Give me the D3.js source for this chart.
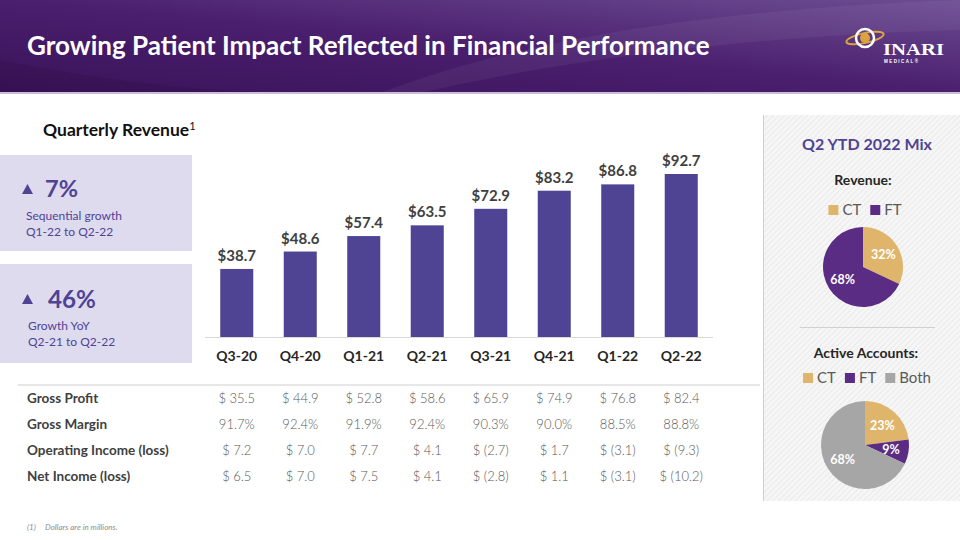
<!DOCTYPE html>
<html><head><meta charset="utf-8">
<script src="https://cdn.jsdelivr.net/npm/d3@7"></script>
<style>
html,body{margin:0;padding:0;background:#fff;}
svg{display:block;font-family:Lato,"Open Sans",sans-serif;}
</style></head>
<body>
<svg id="chart" width="960" height="540"></svg>
<script>
const quarters = ["Q3-20","Q4-20","Q1-21","Q2-21","Q3-21","Q4-21","Q1-22","Q2-22"];
const revenue = [38.7,48.6,57.4,63.5,72.9,83.2,86.8,92.7];
const rowLabels = ["Gross Profit","Gross Margin","Operating Income (loss)","Net Income (loss)"];
const grossProfit = ["$ 35.5","$ 44.9","$ 52.8","$ 58.6","$ 65.9","$ 74.9","$ 76.8","$ 82.4"];
const grossMargin = ["91.7%","92.4%","91.9%","92.4%","90.3%","90.0%","88.5%","88.8%"];
const opIncome = ["$ 7.2","$ 7.0","$ 7.7","$ 4.1","$ (2.7)","$ 1.7","$ (3.1)","$ (9.3)"];
const netIncome = ["$ 6.5","$ 7.0","$ 7.5","$ 4.1","$ (2.8)","$ 1.1","$ (3.1)","$ (10.2)"];
const revMixLabels = ["CT","FT"];
const revMix = [32,68];
const acctMixLabels = ["CT","FT","Both"];
const acctMix = [23,9,68];
const mixColors = ["#dfb56b","#5b2c83","#a6a6a6"];

const svg = d3.select("#chart");
const defs = svg.append("defs");

// header gradient
const hg = defs.append("linearGradient").attr("id","hdr").attr("x1","0").attr("y1","1").attr("x2","1").attr("y2","0");
hg.append("stop").attr("offset","0").attr("stop-color","#3a1259");
hg.append("stop").attr("offset","0.5").attr("stop-color","#4a1f6e");
hg.append("stop").attr("offset","1").attr("stop-color","#6d4d93");
svg.append("rect").attr("x",0).attr("y",0).attr("width",960).attr("height",93).attr("fill","url(#hdr)");
svg.append("path").attr("d","M380,93 C520,40 700,10 960,0 L960,30 C760,35 560,60 420,93 Z").attr("fill","#ffffff").attr("opacity",0.05);
svg.append("path").attr("d","M0,60 C150,90 250,93 330,93 L0,93 Z").attr("fill","#000").attr("opacity",0.08);
svg.append("rect").attr("x",0).attr("y",92).attr("width",960).attr("height",2).attr("fill","#c9bdd9");

function fit(sel, w){
  const n = sel.node(); const l = n.getComputedTextLength();
  const fs = parseFloat(sel.attr("font-size"));
  sel.attr("font-size", fs*w/l);
  return sel;
}

const title = svg.append("text").attr("x",27).attr("y",55).attr("fill","#fff")
  .attr("font-weight","700").attr("font-size",24)
  .text("Growing Patient Impact Reflected in Financial Performance");
fit(title, 683);

// logo
const logo = svg.append("g").attr("transform","translate(865,38)");
logo.append("ellipse").attr("cx",0).attr("cy",0).attr("rx",19).attr("ry",5).attr("fill","none").attr("stroke","#d9a441").attr("stroke-width",2).attr("transform","rotate(-12)");
logo.append("circle").attr("cx",0).attr("cy",0).attr("r",9).attr("fill","none").attr("stroke","#fff").attr("stroke-width",2.5);
logo.append("circle").attr("cx",0).attr("cy",0).attr("r",5).attr("fill","#d9a441");
svg.append("text").attr("x",883).attr("y",55).attr("fill","#fff").attr("font-family","'Liberation Serif',serif").attr("font-weight","700").attr("font-size",16).attr("textLength",61).attr("lengthAdjust","spacingAndGlyphs").text("INARI");
svg.append("text").attr("x",884).attr("y",62.5).attr("fill","#fff").attr("font-family","'Liberation Sans',sans-serif").attr("font-weight","700").attr("font-size",4.5).attr("textLength",34).attr("lengthAdjust","spacing").text("MEDICAL®");

// right panel with hatching
const pat = defs.append("pattern").attr("id","hatch").attr("patternUnits","userSpaceOnUse").attr("width",4).attr("height",4).attr("patternTransform","rotate(45)");
pat.append("rect").attr("width",4).attr("height",4).attr("fill","#f6f6f6");
pat.append("line").attr("x1",0).attr("y1",0).attr("x2",0).attr("y2",4).attr("stroke","#e6e6e6").attr("stroke-width",1.5);
svg.append("rect").attr("x",763).attr("y",115).attr("width",197).attr("height",386).attr("fill","url(#hatch)");
svg.append("line").attr("x1",763.5).attr("x2",763.5).attr("y1",115).attr("y2",501).attr("stroke","#cfcfcf").attr("stroke-width",1);

// left boxes
svg.append("rect").attr("x",0).attr("y",155).attr("width",192).attr("height",96).attr("fill","#dedbef");
svg.append("rect").attr("x",0).attr("y",264).attr("width",192).attr("height",99).attr("fill","#dedbef");
const purple = "#4f4394";
function tri(x,y){ svg.append("path").attr("d",`M${x},${y} L${x+11},${y} L${x+5.5},${y-10} Z`).attr("fill",purple); }
tri(22,194);
fit(svg.append("text").attr("x",45).attr("y",197).attr("fill",purple).attr("font-weight","700").attr("font-size",23).text("7%"),33);
fit(svg.append("text").attr("x",26).attr("y",220).attr("fill",purple).attr("font-size",11).text("Sequential growth"),96);
svg.append("text").attr("x",26).attr("y",236).attr("fill",purple).attr("font-size",12).text("Q1-22 to Q2-22");
tri(22,304);
fit(svg.append("text").attr("x",48).attr("y",308).attr("fill",purple).attr("font-weight","700").attr("font-size",23).text("46%"),48);
svg.append("text").attr("x",28).attr("y",330).attr("fill",purple).attr("font-size",12).text("Growth YoY");
svg.append("text").attr("x",28).attr("y",346).attr("fill",purple).attr("font-size",12).text("Q2-21 to Q2-22");

// Quarterly revenue title
const qr = svg.append("text").attr("x",43).attr("y",136).attr("fill","#111").attr("font-weight","700").attr("font-size",17.5);
qr.append("tspan").text("Quarterly Revenue");
qr.append("tspan").attr("font-size",11).attr("font-weight","400").attr("dy",-6).text("1");

// bar chart
const x = d3.scaleBand().domain(quarters).range([205,713]).paddingInner(0.48).paddingOuter(0.24);
const y = d3.scaleLinear().domain([0,92.7]).range([337,174]);
svg.append("line").attr("x1",205).attr("x2",713).attr("y1",337.5).attr("y2",337.5).attr("stroke","#d9d9d9");
svg.selectAll("rect.bar").data(revenue).join("rect").attr("class","bar")
  .attr("x",(d,i)=>x(quarters[i])).attr("width",x.bandwidth())
  .attr("y",d=>y(d)).attr("height",d=>y(0)-y(d)).attr("fill","#4f4394");
svg.selectAll("text.val").data(revenue).join("text").attr("class","val")
  .attr("x",(d,i)=>x(quarters[i])+x.bandwidth()/2).attr("y",d=>y(d)-8)
  .attr("text-anchor","middle").attr("font-weight","700").attr("font-size",15).attr("fill","#404040")
  .text(d=>"$"+d.toFixed(1));
const xAxis = svg.append("g").attr("transform","translate(0,337)").call(d3.axisBottom(x).tickSize(0).tickPadding(14));
xAxis.select(".domain").remove();
xAxis.selectAll("text").attr("font-family","Lato,'Open Sans',sans-serif").attr("font-size",14).attr("font-weight","700").attr("fill","#262626");

// table
svg.append("line").attr("x1",18).attr("x2",760).attr("y1",385).attr("y2",385).attr("stroke","#d0d0d0").attr("stroke-width",1.2);
const rows = [grossProfit, grossMargin, opIncome, netIncome];
const rowY = d3.scalePoint().domain(rowLabels).range([403,481]);
rowLabels.forEach((lab,ri)=>{
  svg.append("text").attr("x",27).attr("y",rowY(lab)).attr("font-size",13.5).attr("font-weight","700").attr("fill","#404040").text(lab);
  svg.selectAll(null).data(rows[ri]).join("text")
    .attr("x",(d,i)=>x(quarters[i])+x.bandwidth()/2).attr("y",rowY(lab))
    .attr("text-anchor","middle").attr("font-size",13).attr("font-weight","300").attr("fill","#595959").text(d=>d);
});

// footnote
svg.append("text").attr("x",27).attr("y",530).attr("font-size",8).attr("font-style","italic").attr("fill","#8c8c8c").text("(1)");
svg.append("text").attr("x",45).attr("y",530).attr("font-size",8).attr("font-style","italic").attr("fill","#8c8c8c").text("Dollars are in millions.");

// right panel content
svg.append("text").attr("x",867).attr("y",150).attr("text-anchor","middle").attr("font-weight","700").attr("font-size",16).attr("fill",purple).text("Q2 YTD 2022 Mix");
svg.append("text").attr("x",863).attr("y",185).attr("text-anchor","middle").attr("font-weight","700").attr("font-size",14).attr("fill","#262626").text("Revenue:");
svg.append("line").attr("x1",800).attr("x2",935).attr("y1",327.5).attr("y2",327.5).attr("stroke","#d0d0d0").attr("stroke-width",1.2);
svg.append("text").attr("x",866).attr("y",358).attr("text-anchor","middle").attr("font-weight","700").attr("font-size",14).attr("fill","#262626").text("Active Accounts:");

function legend(labels, cx, cy){
  const g = svg.append("g");
  const tmp = labels.map(l=>{const t=svg.append("text").attr("font-size",15).text(l); const w=t.node().getComputedTextLength(); t.remove(); return w;});
  const items = tmp.map(w=>10+4+w);
  const gap = 9;
  const total = d3.sum(items)+gap*(items.length-1);
  let xx = cx-total/2;
  labels.forEach((l,i)=>{
    g.append("rect").attr("x",xx).attr("y",cy-10).attr("width",10).attr("height",10).attr("fill",mixColors[i]);
    g.append("text").attr("x",xx+14).attr("y",cy).attr("font-size",15).attr("fill","#595959").text(l);
    xx += items[i]+gap;
  });
}
legend(revMixLabels, 865, 215);
legend(acctMixLabels, 867, 383);

function pie(vals, cx, cy, r){
  const arcs = d3.pie().sort(null)(vals);
  const arc = d3.arc().innerRadius(0).outerRadius(r);
  const g = svg.append("g").attr("transform",`translate(${cx},${cy})`);
  g.selectAll("path").data(arcs).join("path").attr("d",arc).attr("fill",(d,i)=>mixColors[i]);
  const la = d3.arc().innerRadius(r*0.6).outerRadius(r*0.6);
  g.selectAll("text").data(arcs).join("text")
    .attr("transform",d=>{const c=la.centroid(d); return `translate(${c[0]},${c[1]})`;})
    .attr("text-anchor","middle").attr("dy","0.35em").attr("font-weight","700").attr("font-size",12.5).attr("fill","#fff")
    .text(d=>d.value+"%");
}
pie(revMix, 863, 267, 40);
pie(acctMix, 865, 445, 44);
</script>
</body></html>
